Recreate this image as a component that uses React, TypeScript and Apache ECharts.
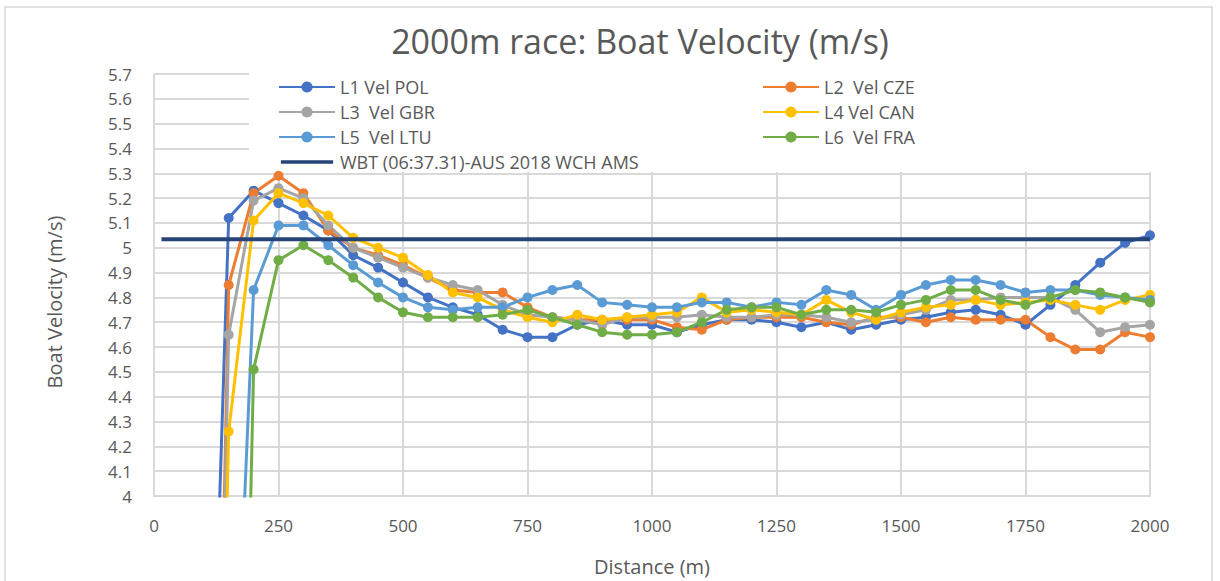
import React, { useEffect, useRef } from "react";
import * as echarts from "echarts";

const distances = [100, 150, 200, 250, 300, 350, 400, 450, 500, 550, 600, 650, 700, 750, 800, 850, 900, 950, 1000, 1050, 1100, 1150, 1200, 1250, 1300, 1350, 1400, 1450, 1500, 1550, 1600, 1650, 1700, 1750, 1800, 1850, 1900, 1950, 2000];

const velPOL = [2.0, 5.12, 5.23, 5.18, 5.13, 5.07, 4.97, 4.92, 4.86, 4.80, 4.76, 4.73, 4.67, 4.64, 4.64, 4.69, 4.71, 4.69, 4.69, 4.66, 4.69, 4.71, 4.71, 4.70, 4.68, 4.70, 4.67, 4.69, 4.71, 4.72, 4.74, 4.75, 4.73, 4.69, 4.77, 4.85, 4.94, 5.02, 5.05];
const velCZE = [0, 4.85, 5.22, 5.29, 5.22, 5.07, 5.00, 4.97, 4.93, 4.88, 4.83, 4.82, 4.82, 4.76, 4.72, 4.71, 4.71, 4.71, 4.71, 4.68, 4.67, 4.71, 4.72, 4.72, 4.72, 4.70, 4.69, 4.72, 4.72, 4.70, 4.72, 4.71, 4.71, 4.71, 4.64, 4.59, 4.59, 4.66, 4.64];
const velGBR = [0, 4.65, 5.19, 5.24, 5.20, 5.09, 5.00, 4.96, 4.92, 4.88, 4.85, 4.83, 4.77, 4.73, 4.72, 4.71, 4.69, 4.72, 4.72, 4.72, 4.73, 4.72, 4.72, 4.73, 4.73, 4.72, 4.70, 4.71, 4.73, 4.75, 4.79, 4.79, 4.80, 4.80, 4.80, 4.75, 4.66, 4.68, 4.69];
const velCAN = [0, 4.26, 5.11, 5.22, 5.18, 5.13, 5.04, 5.00, 4.96, 4.89, 4.82, 4.80, 4.75, 4.72, 4.70, 4.73, 4.71, 4.72, 4.73, 4.74, 4.80, 4.74, 4.75, 4.74, 4.73, 4.79, 4.74, 4.71, 4.74, 4.76, 4.77, 4.79, 4.77, 4.78, 4.79, 4.77, 4.75, 4.79, 4.81];
const velLTU = [0, 2.5, 4.83, 5.09, 5.09, 5.01, 4.93, 4.86, 4.80, 4.76, 4.75, 4.76, 4.76, 4.80, 4.83, 4.85, 4.78, 4.77, 4.76, 4.76, 4.78, 4.78, 4.76, 4.78, 4.77, 4.83, 4.81, 4.75, 4.81, 4.85, 4.87, 4.87, 4.85, 4.82, 4.83, 4.83, 4.81, 4.80, 4.79];
const velFRA = [0, 0, 4.51, 4.95, 5.01, 4.95, 4.88, 4.80, 4.74, 4.72, 4.72, 4.72, 4.73, 4.75, 4.72, 4.69, 4.66, 4.65, 4.65, 4.66, 4.70, 4.75, 4.76, 4.76, 4.73, 4.75, 4.75, 4.74, 4.77, 4.79, 4.83, 4.83, 4.79, 4.77, 4.80, 4.83, 4.82, 4.80, 4.78];

const wbtDistances = [15, 2000];
const wbtVel = [5.034, 5.034];

const seriesNames = ["L1 Vel POL", "L2  Vel CZE", "L3  Vel GBR", "L4 Vel CAN", "L5  Vel LTU", "L6  Vel FRA"];
const seriesColors = ["#4472C4", "#ED7D31", "#A5A5A5", "#FFC000", "#5B9BD5", "#70AD47"];
const seriesValues = [velPOL, velCZE, velGBR, velCAN, velLTU, velFRA];
const wbtName = "WBT (06:37.31)-AUS 2018 WCH AMS";

const FONT = "'Open Sans', sans-serif";
const TEXT = "#595959";
const GRIDC = "#D9D9D9";

export default function App() {
  const ref = useRef<HTMLDivElement>(null);
  useEffect(() => {
    const chart = echarts.init(ref.current!, null, { renderer: "svg" });
    const lineSeries: any[] = seriesNames.map((name, i) => ({
      name,
      type: "line",
      data: distances.map((d, j) => [d, seriesValues[i][j]]),
      symbol: "circle",
      symbolSize: 10,
      showSymbol: true,
      clip: true,
      color: seriesColors[i],
      lineStyle: { width: 3, color: seriesColors[i] },
      itemStyle: { color: seriesColors[i] },
      z: 2,
    }));
    lineSeries.push({
      name: wbtName,
      type: "line",
      data: wbtDistances.map((d, j) => [d, wbtVel[j]]),
      symbol: "none",
      color: "#264478",
      lineStyle: { width: 4, color: "#264478" },
      z: 3,
    });
    const legendText = { color: TEXT, fontSize: 18, fontFamily: FONT, lineHeight: 20 };
    chart.setOption({
      animation: false,
      backgroundColor: "#ffffff",
      textStyle: { fontFamily: FONT },
      grid: { left: 154, right: 70, top: 74, bottom: 79, containLabel: false },
      graphic: [
        {
          type: "rect",
          z: 0,
          shape: { x: 5, y: 7, width: 1207, height: 620 },
          style: { fill: "none", stroke: GRIDC, lineWidth: 1.5 },
        },
        {
          type: "rect",
          z: 1,
          shape: { x: 249, y: 66, width: 910, height: 106 },
          style: { fill: "#ffffff" },
        },
        {
          type: "text",
          z: 5,
          x: 640,
          y: 41,
          style: {
            text: "2000m race: Boat Velocity (m/s)",
            textAlign: "center",
            textVerticalAlign: "middle",
            fontSize: 34,
            fontFamily: FONT,
            fill: TEXT,
          },
        },
      ],
      legend: [
        {
          orient: "vertical",
          left: 278,
          top: 77,
          padding: 0,
          itemGap: 5,
          itemWidth: 56,
          itemHeight: 14,
          z: 5,
          data: [
            seriesNames[0],
            seriesNames[2],
            seriesNames[4],
            { name: wbtName, icon: "path://M0,0L0.01,0Z M0,5.5L56,5.5L56,9.5L0,9.5Z M0,15L0.01,15Z" },
          ],
          textStyle: legendText,
        },
        {
          orient: "vertical",
          left: 762,
          top: 77,
          padding: 0,
          itemGap: 5,
          itemWidth: 56,
          itemHeight: 14,
          z: 5,
          data: [seriesNames[1], seriesNames[3], seriesNames[5]],
          textStyle: legendText,
        },
      ],
      xAxis: {
        type: "value",
        min: 0,
        max: 2000,
        interval: 250,
        name: "Distance (m)",
        nameLocation: "middle",
        nameGap: 60,
        nameTextStyle: { color: TEXT, fontSize: 20, fontFamily: FONT },
        axisLine: { show: true, lineStyle: { color: GRIDC, width: 2 } },
        axisTick: { show: false },
        axisLabel: {
          color: TEXT,
          fontSize: 17,
          margin: 21,
          fontFamily: FONT,
          formatter: (v: number) => String(v),
        },
        splitLine: { show: true, lineStyle: { color: GRIDC, width: 2 } },
      },
      yAxis: {
        type: "value",
        min: 4,
        max: 5.7,
        interval: 0.1,
        name: "Boat Velocity (m/s)",
        nameLocation: "middle",
        nameGap: 90,
        nameRotate: 90,
        nameTextStyle: { color: TEXT, fontSize: 20, fontFamily: FONT, padding: [0, 34, 0, 0] },
        axisLine: { show: true, lineStyle: { color: GRIDC, width: 2 } },
        axisTick: { show: false },
        axisLabel: { color: TEXT, fontSize: 17, margin: 22, fontFamily: FONT },
        splitLine: { show: true, lineStyle: { color: GRIDC, width: 2 } },
      },
      series: lineSeries,
    });
    return () => chart.dispose();
  }, []);
  return (
    <div
      ref={ref}
      style={{ position: "fixed", left: 0, top: 0, width: 1220, height: 581, background: "#fff" }}
    />
  );
}
